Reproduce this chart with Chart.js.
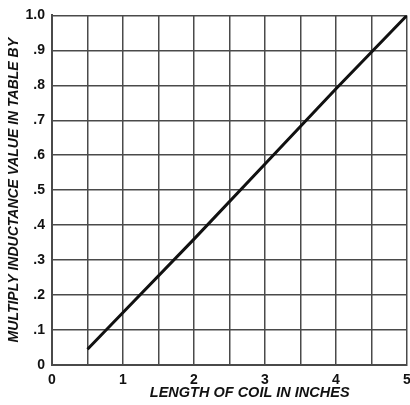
<!DOCTYPE html>
<html>
<head>
<meta charset="utf-8">
<script src="https://cdn.jsdelivr.net/npm/chart.js@4.4.0/dist/chart.umd.min.js"></script>
<style>
  body { margin: 0; background: #fff; }
  #grafico { width: 410px; height: 405px; }
</style>
</head>
<body>
<div id="grafico"><canvas id="myChartBobina" width="410" height="405"></canvas></div>
<script>
// valores
var comprimento = [0.5, 1, 2, 3, 4, 5]
var fator = [0.045, 0.15, 0.36, 0.575, 0.79, 1.0]

var tituloX = 'LENGTH OF COIL IN INCHES'
var tituloY = 'MULTIPLY INDUCTANCE VALUE IN TABLE BY'

var corGrade = '#4a4a4a'

var pontos = []
for (let i = 0; i < comprimento.length; i++) {
    pontos.push({ x: comprimento[i], y: fator[i] })
}

// titulo do eixo x fica um pouco deslocado para a direita no original
const tituloEixoX = {
    id: 'tituloEixoX',
    afterDraw(chart) {
        var ctx = chart.ctx
        var area = chart.chartArea
        ctx.save()
        ctx.font = 'italic bold 14.5px "Liberation Sans"'
        ctx.fillStyle = '#111'
        ctx.textAlign = 'center'
        ctx.textBaseline = 'middle'
        ctx.fillText(tituloX, area.left + (area.right - area.left) * 0.557, 393)
        ctx.restore()
    }
}

const config = {
    type: 'scatter',
    data: {
        datasets: [{
            data: pontos,
            showLine: true,
            borderColor: '#111',
            borderWidth: 3,
            pointRadius: 0,
            fill: false
        }]
    },
    options: {
        responsive: false,
        devicePixelRatio: 1,
        animation: false,
        layout: { padding: { top: 6, right: 0 } },
        plugins: {
            legend: { display: false },
            tooltip: { enabled: false }
        },
        scales: {
            x: {
                type: 'linear',
                min: 0,
                max: 5,
                afterFit: function (scale) {
                    scale.height = 40
                    // o "5" fica cortado na borda, como no original
                    scale.paddingRight = 3
                },
                grid: { color: corGrade, lineWidth: 1.5, drawTicks: false },
                border: { color: corGrade, width: 2 },
                ticks: {
                    stepSize: 0.5,
                    autoSkip: false,
                    maxRotation: 0,
                    padding: 7,
                    color: '#111',
                    font: { family: '"Liberation Sans"', size: 14, weight: 'bold' },
                    callback: function (v) {
                        return Number.isInteger(Math.round(v * 10) / 10) ? String(Math.round(v)) : ''
                    }
                }
            },
            y: {
                min: 0,
                max: 1,
                afterFit: function (scale) { scale.width = 52 },
                grid: { color: corGrade, lineWidth: 1.5, drawTicks: false },
                border: { color: corGrade, width: 2 },
                title: {
                    display: true,
                    text: tituloY,
                    color: '#111',
                    padding: { top: 6, bottom: 0 },
                    font: { family: '"Liberation Sans"', size: 14, style: 'italic', weight: 'bold' }
                },
                ticks: {
                    stepSize: 0.1,
                    padding: 7,
                    color: '#111',
                    font: { family: '"Liberation Sans"', size: 14, weight: 'bold' },
                    callback: function (v) {
                        var d = Math.round(v * 10)
                        if (d == 0) return '0'
                        if (d == 10) return '1.0'
                        return '.' + d
                    }
                }
            }
        }
    },
    plugins: [tituloEixoX]
}

const myChartBobina = new Chart(document.getElementById('myChartBobina'), config)
</script>
</body>
</html>
